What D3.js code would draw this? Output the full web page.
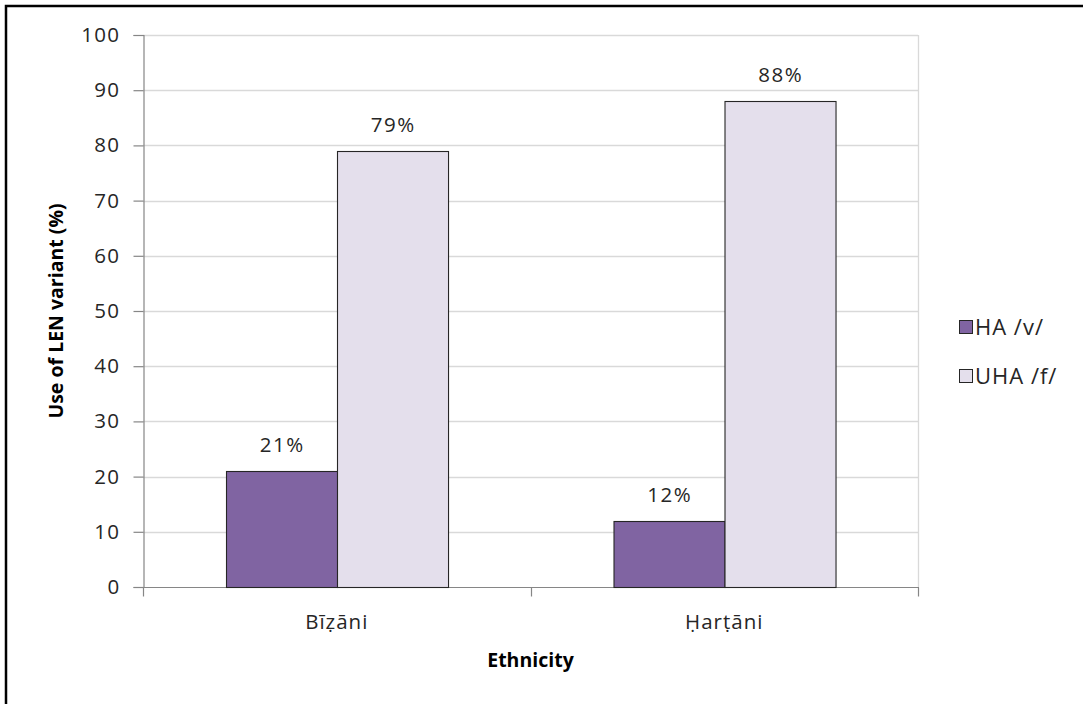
<!DOCTYPE html>
<html>
<head>
<meta charset="utf-8">
<script src="https://cdn.jsdelivr.net/npm/d3@7"></script>
<style>
  html, body { margin: 0; padding: 0; background: #fff; }
  svg { display: block; font-family: "Open Sans", "Noto Sans", sans-serif; }
</style>
</head>
<body>
<svg id="chart" width="1083" height="704"></svg>
<script>
// Ethnic groups on the x axis
const categories = ["Bīẓāni", "Ḥarṭāni"];
// Series: share of each LEN variant, in percent
const seriesNames = ["HA /v/", "UHA /f/"];
const haValues = [21, 12];
const uhaValues = [79, 88];
const yTicks = [0, 10, 20, 30, 40, 50, 60, 70, 80, 90, 100];
const seriesColors = ["#8064a2", "#e4dfec"];

const svg = d3.select("#chart");
const W = 1083, H = 704;
const plot = { left: 143, right: 918, top: 35, bottom: 587 };
const textColor = "#262626";
const fs = 20.5;

// Outer frame (only its top and left edges fall inside the view)
svg.append("rect")
  .attr("x", 6).attr("y", 6)
  .attr("width", W + 20).attr("height", H + 20)
  .attr("fill", "#fff").attr("stroke", "#000").attr("stroke-width", 2.5);

const x0 = d3.scaleBand().domain(categories).range([plot.left, plot.right]).paddingInner(0).paddingOuter(0);
const x1 = d3.scaleBand().domain(seriesNames).range([0, x0.bandwidth()]).paddingInner(0).paddingOuter(0.745);
const y = d3.scaleLinear().domain([0, 100]).range([plot.bottom, plot.top]);

// Horizontal gridlines
svg.append("g").selectAll("line")
  .data(yTicks.filter(d => d > 0))
  .join("line")
  .attr("x1", plot.left).attr("x2", plot.right)
  .attr("y1", d => Math.round(y(d)) + 0.5).attr("y2", d => Math.round(y(d)) + 0.5)
  .attr("stroke", "#d9d9d9").attr("stroke-width", 1.3);

// Right edge of plot area
svg.append("line")
  .attr("x1", plot.right + 0.5).attr("x2", plot.right + 0.5)
  .attr("y1", plot.top).attr("y2", plot.bottom)
  .attr("stroke", "#d9d9d9").attr("stroke-width", 1.3);

// Y axis
const yAxis = d3.axisLeft(y).tickValues(yTicks).tickSize(10).tickPadding(13);
const gy = svg.append("g").attr("transform", `translate(${plot.left + 0.5},0)`).call(yAxis);
gy.select(".domain").attr("stroke", "#868686").attr("stroke-width", 1.2);
gy.selectAll(".tick line").attr("stroke", "#868686").attr("stroke-width", 1.2);
gy.selectAll(".tick text")
  .attr("font-family", "'Open Sans', sans-serif")
  .attr("font-size", fs).attr("fill", textColor)
  .attr("letter-spacing", "1.4px");

// X axis with ticks on category boundaries
const gx = svg.append("g").attr("transform", `translate(0,${plot.bottom + 0.5})`);
gx.append("line")
  .attr("x1", plot.left).attr("x2", plot.right + 1)
  .attr("stroke", "#868686").attr("stroke-width", 1.2);
const boundaries = [plot.left, x0(categories[1]), plot.right];
gx.selectAll("line.tk").data(boundaries).join("line")
  .attr("class", "tk")
  .attr("x1", d => Math.round(d) + 0.5).attr("x2", d => Math.round(d) + 0.5)
  .attr("y1", 0).attr("y2", 9)
  .attr("stroke", "#868686").attr("stroke-width", 1.2);
gx.selectAll("text").data(categories).join("text")
  .attr("x", d => x0(d) + x0.bandwidth() / 2)
  .attr("y", 41)
  .attr("text-anchor", "middle")
  .attr("font-size", fs).attr("fill", textColor)
  .attr("letter-spacing", "1px")
  .text(d => d);

// Bars
const rows = categories.map((c, i) => ({ cat: c, vals: [haValues[i], uhaValues[i]] }));
const groups = svg.append("g").selectAll("g").data(rows).join("g")
  .attr("transform", d => `translate(${x0(d.cat)},0)`);
groups.selectAll("rect")
  .data(d => d.vals.map((v, j) => ({ name: seriesNames[j], v, j })))
  .join("rect")
  .attr("x", d => Math.round(x1(d.name)) + 0.5)
  .attr("y", d => Math.round(y(d.v)) + 0.5)
  .attr("width", x1.bandwidth())
  .attr("height", d => Math.round(y(0)) - Math.round(y(d.v)))
  .attr("fill", d => seriesColors[d.j])
  .attr("stroke", textColor).attr("stroke-width", 1.1);

// Value labels
groups.selectAll("text")
  .data(d => d.vals.map((v, j) => ({ name: seriesNames[j], v, j })))
  .join("text")
  .attr("x", d => x1(d.name) + x1.bandwidth() / 2 + 1)
  .attr("y", d => y(d.v) - 19)
  .attr("text-anchor", "middle")
  .attr("font-size", fs).attr("fill", textColor)
  .attr("letter-spacing", "1.6px")
  .text(d => d.v + "%");

// Axis titles
svg.append("text")
  .attr("transform", `translate(63,${(plot.top + plot.bottom) / 2}) rotate(-90)`)
  .attr("text-anchor", "middle")
  .attr("font-size", 19.5).attr("font-weight", "bold").attr("fill", "#000")
  .text("Use of LEN variant (%)");
svg.append("text")
  .attr("x", (plot.left + plot.right) / 2)
  .attr("y", 667)
  .attr("text-anchor", "middle")
  .attr("font-size", 19.5).attr("font-weight", "bold").attr("fill", "#000")
  .text("Ethnicity");

// Legend
const legend = svg.append("g").attr("transform", "translate(959,320)");
const li = legend.selectAll("g").data(seriesNames).join("g")
  .attr("transform", (d, i) => `translate(0,${i * 49})`);
li.append("rect")
  .attr("x", 0.5).attr("y", 0.5).attr("width", 13).attr("height", 13)
  .attr("fill", (d, i) => seriesColors[i])
  .attr("stroke", textColor).attr("stroke-width", 1);
li.append("text")
  .attr("x", 16).attr("y", 15)
  .attr("font-size", 22).attr("fill", textColor)
  .attr("letter-spacing", "1px")
  .text(d => d);
</script>
</body>
</html>
